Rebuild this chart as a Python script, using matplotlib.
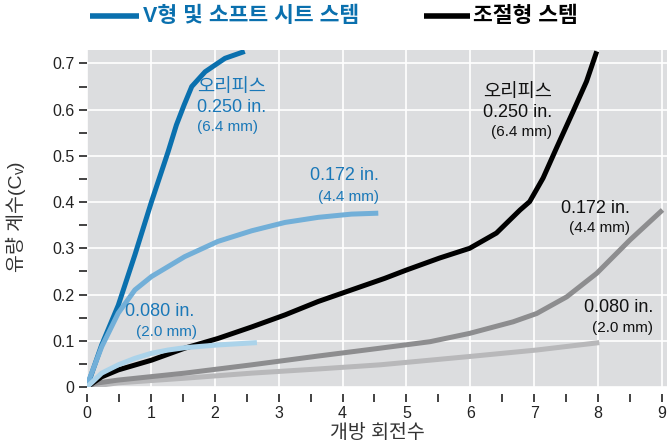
import matplotlib
matplotlib.use("Agg")
import matplotlib.pyplot as plt
from matplotlib.lines import Line2D
from matplotlib.ticker import MultipleLocator, FuncFormatter

plt.rcParams["font.family"] = ["Liberation Sans", "Noto Sans CJK KR"]

# V-type / soft seat stem (blue)
v250_x = [0, 0.02, 0.23, 0.49, 0.75, 1.01, 1.27, 1.40, 1.52, 1.64, 1.85, 2.16, 2.47]
v250_y = [0, 0.008, 0.091, 0.177, 0.286, 0.401, 0.509, 0.567, 0.61, 0.65, 0.682, 0.711, 0.726]
v172_x = [0, 0.02, 0.23, 0.49, 0.75, 1.01, 1.53, 2.05, 2.58, 3.10, 3.62, 4.14, 4.56]
v172_y = [0, 0.011, 0.087, 0.16, 0.21, 0.239, 0.282, 0.315, 0.338, 0.356, 0.367, 0.374, 0.376]
v080_x = [0, 0.23, 0.49, 0.75, 1.01, 1.27, 1.53, 2.05, 2.66]
v080_y = [0, 0.03, 0.048, 0.062, 0.073, 0.08, 0.085, 0.091, 0.096]

# regulating stem (black / grey)
r250_x = [0, 0.23, 0.49, 1.01, 1.53, 2.05, 2.58, 3.10, 3.62, 4.14, 4.66, 5.0, 5.52,
          5.99, 6.41, 6.78, 6.93, 7.14, 7.35, 7.61, 7.82, 7.98]
r250_y = [0, 0.022, 0.037, 0.058, 0.084, 0.105, 0.13, 0.156, 0.185, 0.21, 0.235, 0.253,
          0.279, 0.30, 0.333, 0.383, 0.401, 0.452, 0.517, 0.596, 0.661, 0.726]
r172_x = [0, 0.125, 0.49, 1.53, 2.58, 3.62, 4.59, 5.37, 5.99, 6.67, 7.04, 7.51, 7.98,
          8.50, 9.01]
r172_y = [0, 0.008, 0.015, 0.03, 0.048, 0.067, 0.084, 0.098, 0.116, 0.141, 0.159, 0.195,
          0.246, 0.318, 0.383]
r080_x = [0, 0.49, 1.53, 2.58, 3.62, 4.59, 5.99, 7.04, 8.02]
r080_y = [0, 0.009, 0.019, 0.03, 0.039, 0.048, 0.066, 0.08, 0.096]

dark_blue = "#0a70ae"
mid_blue = "#72afd8"
light_blue = "#abd3ea"
dark_grey = "#8d8d8f"
light_grey = "#b8b8ba"

fig = plt.figure(figsize=(6.67, 4.48), dpi=100)
ax = fig.add_axes([87 / 667, 1 - 387 / 448, 580 / 667, 337 / 448])
ax.set_facecolor("#dcdddf")

lw = 3.6
style = dict(lw=lw, solid_capstyle="butt", solid_joinstyle="round")
ax.plot(r080_x, r080_y, color=light_grey, **style)
ax.plot(r172_x, r172_y, color=dark_grey, **style)
ax.plot(r250_x, r250_y, color="black", **style)
ax.plot(v250_x, v250_y, color=dark_blue, **style)
ax.plot(v172_x, v172_y, color=mid_blue, **style)
ax.plot(v080_x, v080_y, color=light_blue, **style)

ax.set_xlim(0, 9.08)
ax.set_ylim(0, 0.729)
ax.xaxis.set_major_locator(MultipleLocator(1))
ax.xaxis.set_minor_locator(MultipleLocator(0.5))
ax.yaxis.set_major_locator(MultipleLocator(0.1))
ax.yaxis.set_minor_locator(MultipleLocator(0.05))
ax.yaxis.set_major_formatter(FuncFormatter(lambda v, p: "0" if abs(v) < 1e-9 else f"{v:.1f}"))
ax.grid(which="major", color="white", lw=1.2)
ax.set_axisbelow(True)
for s in ax.spines.values():
    s.set_visible(False)
ax.spines["bottom"].set_position(("outward", 5))
ax.tick_params(which="both", direction="out", length=6, width=1.2, colors="#222222",
               labelsize=11.5)
ax.tick_params(axis="x", pad=3)
ax.tick_params(axis="y", pad=3)

ax.set_xlabel("개방 회전수", fontsize=14, color="#333333", labelpad=2)

# y label built from pieces so the subscript v works with the Korean font
yl_x = 16 / 667
t1 = fig.text(yl_x, 1 - 272 / 448, "유량 계수(C", rotation=90, fontsize=14,
              color="#333333", ha="center", va="bottom")
fig.canvas.draw()
bb = t1.get_window_extent().transformed(fig.transFigure.inverted())
t2 = fig.text(yl_x + 4 / 667, bb.y1, "v", rotation=90, fontsize=10,
              color="#333333", ha="center", va="bottom")
fig.canvas.draw()
bb2 = t2.get_window_extent().transformed(fig.transFigure.inverted())
fig.text(yl_x, bb2.y1, ")", rotation=90, fontsize=14, color="#333333",
         ha="center", va="bottom")


def px(x, y):
    return (x - 87) / 63.9, (387 - y) / 462.0


def label(x, y, s, size, color, ha="left"):
    dx, dy = px(x, y)
    ax.text(dx, dy, s, fontsize=size, color=color, ha=ha, va="top")


text_blue = "#1a78b8"
label(197, 79, "오리피스", 13.5, text_blue)
label(197, 99, "0.250 in.", 13, text_blue)
label(197, 120, "(6.4 mm)", 11, text_blue)
label(379, 167, "0.172 in.", 13, text_blue, "right")
label(379, 190, "(4.4 mm)", 11, text_blue, "right")
label(125, 303, "0.080 in.", 13, text_blue)
label(197, 325, "(2.0 mm)", 11, text_blue, "right")

label(552, 84, "오리피스", 13.5, "#111111", "right")
label(552, 104, "0.250 in.", 13, "#111111", "right")
label(552, 125, "(6.4 mm)", 11, "#111111", "right")
label(630, 200, "0.172 in.", 13, "#111111", "right")
label(630, 221, "(4.4 mm)", 11, "#111111", "right")
label(653, 299, "0.080 in.", 13, "#111111", "right")
label(653, 321, "(2.0 mm)", 11, "#111111", "right")

# legend across the top
ly = 1 - 16 / 448
fig.add_artist(Line2D([90 / 667, 139 / 667], [ly, ly], color=dark_blue, lw=4,
                      solid_capstyle="butt"))
fig.text(143 / 667, ly, "V형 및 소프트 시트 스템", color=dark_blue, fontsize=15.5,
         fontweight="bold", va="center")
fig.add_artist(Line2D([424 / 667, 470 / 667], [ly, ly], color="black", lw=4,
                      solid_capstyle="butt"))
fig.text(473 / 667, ly, "조절형 스템", color="black", fontsize=15.5,
         fontweight="bold", va="center")

fig.savefig("out.png", dpi=100)
